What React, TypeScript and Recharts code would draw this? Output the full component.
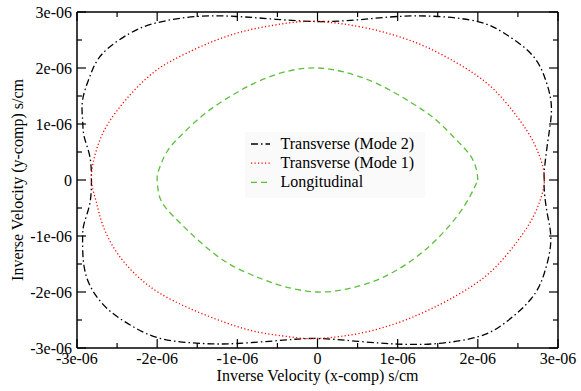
import React from 'react';
import { LineChart, Line, XAxis, YAxis, Legend } from 'recharts';

// All values are in units of 1e-06 s/cm
const TICK_VALUES = [-3, -2.5, -2, -1.5, -1, -0.5, 0, 0.5, 1, 1.5, 2, 2.5, 3];
const MAJOR_VALUES = [-3, -2, -1, 0, 1, 2, 3];
const TICK_LABELS = ['-3e-06', '-2e-06', '-1e-06', '0', '1e-06', '2e-06', '3e-06'];

const SERIES_NAMES = ['Transverse (Mode 2)', 'Transverse (Mode 1)', 'Longitudinal'];

const mode2Pts: [number, number][] = [
  [2.83, 0], [2.83, 0.18], [2.87, 0.66], [2.91, 1.07], [2.91, 1.43], [2.83, 1.85], [2.66, 2.26],
  [2.33, 2.62], [2.0, 2.83], [1.5, 2.92], [1.0, 2.92], [0.5, 2.86], [0, 2.83],
  [-0.52, 2.87], [-1.01, 2.92], [-1.51, 2.92], [-2.0, 2.81], [-2.34, 2.62], [-2.68, 2.26],
  [-2.84, 1.85], [-2.93, 1.43], [-2.93, 1.07], [-2.91, 0.77], [-2.84, 0.42], [-2.82, 0],
  [-2.84, -0.42], [-2.91, -0.77], [-2.93, -1.04], [-2.92, -1.45], [-2.84, -1.88], [-2.62, -2.3],
  [-2.3, -2.62], [-1.93, -2.84], [-1.43, -2.92], [-1.01, -2.92], [-0.43, -2.86], [0, -2.83],
  [0.5, -2.88], [1.0, -2.93], [1.5, -2.92], [2.0, -2.80], [2.33, -2.56], [2.66, -2.13],
  [2.83, -1.66], [2.91, -1.10], [2.87, -0.63], [2.83, -0.21], [2.83, 0],
];

const mode1Pts: [number, number][] = [
  [2.83, 0], [2.81, 0.24], [2.70, 0.66], [2.49, 1.13], [2.16, 1.67], [1.75, 2.08], [1.25, 2.44],
  [0.62, 2.71], [0, 2.83], [-0.43, 2.79], [-0.85, 2.68], [-1.26, 2.50], [-1.64, 2.26],
  [-1.97, 2.0], [-2.26, 1.64], [-2.51, 1.22], [-2.68, 0.83], [-2.78, 0.42], [-2.82, 0],
  [-2.76, -0.39], [-2.68, -0.80], [-2.51, -1.28], [-2.26, -1.70], [-1.97, -2.02], [-1.60, -2.29],
  [-1.18, -2.53], [-0.76, -2.71], [-0.35, -2.80], [0, -2.83], [0.62, -2.71], [1.25, -2.41],
  [1.75, -2.05], [2.16, -1.64], [2.49, -1.10], [2.70, -0.63], [2.81, -0.21], [2.83, 0],
];

const longitudinalPts: [number, number][] = [
  [2.0, 0], [1.98, 0.2], [1.9, 0.45], [1.73, 0.72], [1.48, 1.07], [1.15, 1.40], [0.73, 1.73],
  [0.33, 1.93], [0, 2.0], [-0.35, 1.95], [-0.74, 1.76], [-1.08, 1.50], [-1.41, 1.18],
  [-1.70, 0.80], [-1.88, 0.50], [-1.98, 0.18], [-2.0, 0], [-1.97, -0.3], [-1.88, -0.52],
  [-1.72, -0.76], [-1.43, -1.15], [-1.10, -1.50], [-0.76, -1.73], [-0.42, -1.90], [0, -2.0],
  [0.42, -1.93], [0.83, -1.73], [1.21, -1.40], [1.50, -1.04], [1.75, -0.63], [1.91, -0.27], [2.0, 0],
];

const toData = (pts: [number, number][]) => pts.map(([x, y]) => ({ x, y }));

const FONT = "Liberation Serif, Times New Roman, serif";
const COLORS = ['#000000', '#ff0000', '#5cbf3c'];
const DASHES = ['7 3 1.5 3', '1.2 2.3', '6 4'];

function makeTick(side: 'bottom' | 'top' | 'left' | 'right') {
  return (props: any) => {
    const { x, y, payload } = props;
    const v = payload.value;
    const idx = MAJOR_VALUES.indexOf(v);
    const major = idx >= 0;
    const len = major ? 9 : 5;
    let line;
    let label = null;
    if (side === 'bottom') {
      line = <line x1={x} y1={y} x2={x} y2={y - len} stroke="#000" strokeWidth={1.2} />;
      if (major)
        label = (
          <text x={x} y={y + 16} textAnchor="middle" fontFamily={FONT} fontSize={16} fill="#000">
            {TICK_LABELS[idx]}
          </text>
        );
    } else if (side === 'top') {
      line = <line x1={x} y1={y} x2={x} y2={y + len} stroke="#000" strokeWidth={1.2} />;
    } else if (side === 'left') {
      line = <line x1={x} y1={y} x2={x + len} y2={y} stroke="#000" strokeWidth={1.2} />;
      if (major)
        label = (
          <text x={x - 5} y={y + 5.5} textAnchor="end" fontFamily={FONT} fontSize={16} fill="#000">
            {TICK_LABELS[idx]}
          </text>
        );
    } else {
      line = <line x1={x} y1={y} x2={x - len} y2={y} stroke="#000" strokeWidth={1.2} />;
    }
    return (
      <g>
        {line}
        {label}
      </g>
    );
  };
}

const renderLegend = () => (
  <svg width={180} height={66} style={{ display: 'block' }}>
    <rect x={0} y={0} width={180} height={66} fill="#fafafa" />
    {SERIES_NAMES.map((name, i) => (
      <g key={name}>
        <line
          x1={6}
          x2={25}
          y1={12 + i * 19.2}
          y2={12 + i * 19.2}
          stroke={COLORS[i]}
          strokeWidth={1.3}
          strokeDasharray={DASHES[i]}
        />
        <text x={35.5} y={16.5 + i * 19.2} fontFamily={FONT} fontSize={16} fill="#000">
          {name}
        </text>
      </g>
    ))}
  </svg>
);

export default function App() {
  const series = [mode2Pts, mode1Pts, longitudinalPts];
  return (
    <div style={{ position: 'absolute', left: 0, top: 0, background: '#fff' }}>
      <LineChart width={581} height={391} margin={{ top: 11, right: 22, bottom: 42, left: 8 }}>
        <XAxis
          xAxisId="main"
          type="number"
          dataKey="x"
          domain={[-3, 3]}
          ticks={TICK_VALUES}
          interval={0}
          allowDataOverflow
          height={1}
          tickSize={0}
          tickMargin={0}
          tickLine={false}
          axisLine={{ stroke: '#000', strokeWidth: 1.5 }}
          tick={makeTick('bottom')}
          label={{
            content: (p: any) => {
              const vb = p.viewBox || { x: 77, y: 348, width: 481 };
              return (
                <text x={vb.x + vb.width / 2} y={381} textAnchor="middle" fontFamily={FONT} fontSize={16} fill="#000">
                  Inverse Velocity (x-comp) s/cm
                </text>
              );
            },
          }}
        />
        <XAxis
          xAxisId="top"
          orientation="top"
          type="number"
          dataKey="x"
          domain={[-3, 3]}
          ticks={TICK_VALUES}
          interval={0}
          allowDataOverflow
          height={1}
          tickSize={0}
          tickMargin={0}
          tickLine={false}
          axisLine={{ stroke: '#000', strokeWidth: 1.5 }}
          tick={makeTick('top')}
        />
        <YAxis
          yAxisId="main"
          type="number"
          dataKey="y"
          domain={[-3, 3]}
          ticks={TICK_VALUES}
          interval={0}
          allowDataOverflow
          width={69}
          tickSize={0}
          tickMargin={0}
          tickLine={false}
          axisLine={{ stroke: '#000', strokeWidth: 1.5 }}
          tick={makeTick('left')}
          label={{
            content: (p: any) => {
              const vb = p.viewBox || { x: 8, y: 12, height: 336 };
              const cy = vb.y + vb.height / 2;
              return (
                <text
                  x={23}
                  y={cy}
                  transform={`rotate(-90, 23, ${cy})`}
                  textAnchor="middle"
                  fontFamily={FONT}
                  fontSize={16}
                  fill="#000"
                >
                  Inverse Velocity (y-comp) s/cm
                </text>
              );
            },
          }}
        />
        <YAxis
          yAxisId="right"
          orientation="right"
          type="number"
          dataKey="y"
          domain={[-3, 3]}
          ticks={TICK_VALUES}
          interval={0}
          allowDataOverflow
          width={1}
          tickSize={0}
          tickMargin={0}
          tickLine={false}
          axisLine={{ stroke: '#000', strokeWidth: 1.5 }}
          tick={makeTick('right')}
        />
        <Legend
          layout="vertical"
          align="center"
          verticalAlign="middle"
          wrapperStyle={{ position: 'absolute', left: 245, top: 132, width: 180, height: 66 }}
          content={renderLegend}
        />
        {series.map((pts, i) => (
          <Line
            key={SERIES_NAMES[i]}
            name={SERIES_NAMES[i]}
            xAxisId="main"
            yAxisId="main"
            data={toData(pts)}
            dataKey="y"
            type="natural"
            stroke={COLORS[i]}
            strokeWidth={1.3}
            strokeDasharray={DASHES[i]}
            dot={false}
            activeDot={false}
            isAnimationActive={false}
          />
        ))}
        <Line
          xAxisId="top"
          yAxisId="right"
          data={toData(longitudinalPts)}
          dataKey="y"
          stroke="none"
          dot={false}
          activeDot={false}
          legendType="none"
          isAnimationActive={false}
        />
      </LineChart>
    </div>
  );
}
